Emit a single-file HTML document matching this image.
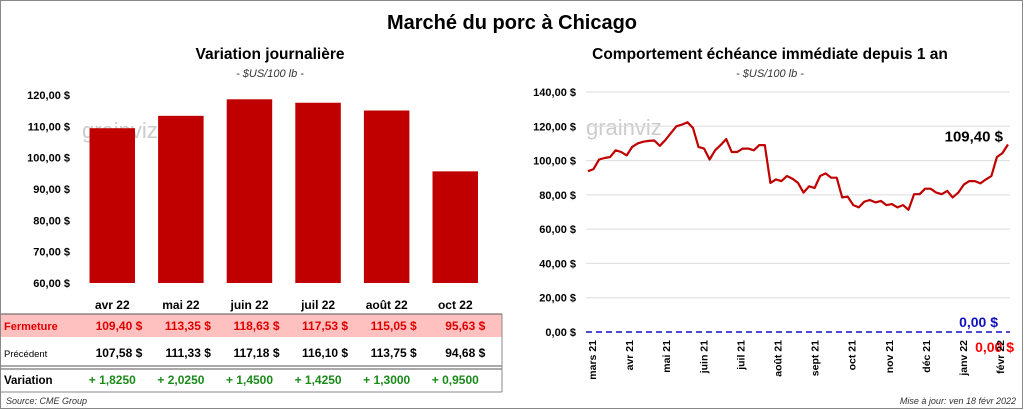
<!DOCTYPE html>
<html><head><meta charset="utf-8"><style>
body{margin:0;background:#fff;}
svg{display:block;font-family:"Liberation Sans",sans-serif;}
</style></head><body>
<svg width="1024" height="410" viewBox="0 0 1024 410">
<rect x="0.5" y="0.5" width="1022" height="408" fill="#fff" stroke="#888"/>
<text x="512" y="29" text-anchor="middle" font-size="20" font-weight="bold">Marché du porc à Chicago</text>
<text x="270" y="59" text-anchor="middle" font-size="15.5" font-weight="bold">Variation  journalière</text>
<text x="270" y="77" text-anchor="middle" font-size="11" font-style="italic" fill="#333">- $US/100 lb -</text>
<text x="770" y="59" text-anchor="middle" font-size="15.5" font-weight="bold">Comportement  échéance immédiate depuis 1 an</text>
<text x="770" y="77" text-anchor="middle" font-size="11" font-style="italic" fill="#333">- $US/100 lb -</text>
<text x="82" y="138" font-size="22" fill="#ccc">grainviz</text>
<text x="586" y="135" font-size="22" fill="#ccc">grainviz</text>
<g id="left"></g>
<g id="table"></g>
<g id="right"></g>
<text x="6" y="404" font-size="9" font-style="italic" fill="#333">Source: CME Group</text>
<text x="1016" y="404" text-anchor="end" font-size="9" font-style="italic" fill="#333">Mise à jour: ven 18 févr 2022</text>
</svg>
<script>
const months = ["avr 22","mai 22","juin 22","juil 22","août 22","oct 22"];
const closeVals = [109.40,113.35,118.63,117.53,115.05,95.63];
const prevVals = [107.58,111.33,117.18,116.10,113.75,94.68];
const varVals = ["+ 1,8250","+ 2,0250","+ 1,4500","+ 1,4250","+ 1,3000","+ 0,9500"];
const leftTicks = [60,70,80,90,100,110,120];
const lineVals = [93.8,95,100.6,101.5,102,106,105,103,108,110,111,111.5,111.7,108.6,112,116,120,121,122.3,119,108,107,100.6,106,109,112.5,105,105,107,107,106,109,109,87,89,88,91,89.4,87,81.3,85,84,91,92.5,90,90,78.5,79,74,72.7,76,77,75.6,76.5,74,74.6,72.7,74,71.3,80.4,80.4,83.6,83.6,81.3,80.4,82.3,78.5,81.3,86,88,88,86.7,89,91,102,104.4,109.4];
const rightTicks = [0,20,40,60,80,100,120,140];
const xMonths = ["mars 21","avr 21","mai 21","juin 21","juil 21","août 21","sept 21","oct 21","nov 21","déc 21","janv 22","févr 22"];
const NS="http://www.w3.org/2000/svg";
function mk(p,t,a,txt){const e=document.createElementNS(NS,t);for(const k in a)e.setAttribute(k,a[k]);if(txt!==undefined)e.textContent=txt;p.appendChild(e);return e;}
const fmt=v=>v.toFixed(2).replace('.',',');
// left bar chart
const L=document.getElementById('left');
const lx0=78,step=68.6,ly=v=>283-(v-60)/60*188;
leftTicks.forEach(t=>{const e=mk(L,'text',{x:70,y:ly(t)+4,'text-anchor':'end','font-size':11,'font-weight':'bold'},fmt(t)+' $');

});
closeVals.forEach((v,i)=>{const r=mk(L,'rect',{x:lx0+i*step+11.5,y:ly(v),width:45.5,height:283-ly(v),fill:'#c00000'});

});
// table
const T=document.getElementById('table');
const pr=mk(T,'rect',{x:1,y:314,width:501,height:23,fill:'#ffc0c0'});


mk(T,'line',{x1:1,y1:314,x2:502,y2:314,stroke:'#555'});
mk(T,'line',{x1:1,y1:366,x2:502,y2:366,stroke:'#555'});
mk(T,'line',{x1:1,y1:369,x2:502,y2:369,stroke:'#555'});
mk(T,'line',{x1:1,y1:392,x2:502,y2:392,stroke:'#888'});
mk(T,'line',{x1:502,y1:314,x2:502,y2:392,stroke:'#888'});
[["Fermeture",330,'#e00000',true,11],["Précédent",357,'#000',false,9.5],["Variation",384,'#000',true,11.5]].forEach(r=>{
const e=mk(T,'text',{x:4,y:r[1],'font-size':r[4],fill:r[2],'font-weight':r[3]?'bold':'normal'},r[0]);

});
months.forEach((m,i)=>{const cx=lx0+i*step+34.3;
const h=mk(T,'text',{x:cx,y:309,'text-anchor':'middle','font-size':12,'font-weight':'bold'},m);


const c=mk(T,'text',{x:cx+30,y:330,'text-anchor':'end','font-size':12,'font-weight':'bold',fill:'#e00000'},fmt(closeVals[i])+'  $');


const p=mk(T,'text',{x:cx+30,y:357,'text-anchor':'end','font-size':12,'font-weight':'bold'},fmt(prevVals[i])+'  $');


const v=mk(T,'text',{x:cx,y:384,'text-anchor':'middle','font-size':12,'font-weight':'bold',fill:'#1a8a1a'},varVals[i]);

});
// right line chart
const R=document.getElementById('right');
const rx0=588,rx1=1008,ry=v=>332-v/140*240;
rightTicks.forEach(t=>{if(t>0)mk(R,'line',{x1:586,x2:1010,y1:ry(t),y2:ry(t),stroke:'#ddd'});
const e=mk(R,'text',{x:576,y:ry(t)+4,'text-anchor':'end','font-size':11,'font-weight':'bold'},fmt(t)+' $');

});
const zl=mk(R,'line',{x1:586,x2:1010,y1:ry(0),y2:ry(0),stroke:'#1010c0','stroke-width':1.5,'stroke-dasharray':'6,4'});


const pts=lineVals.map((v,i)=>(rx0+i*(rx1-rx0)/(lineVals.length-1)).toFixed(1)+','+ry(v).toFixed(1)).join(' ');
const pl=mk(R,'polyline',{points:pts,fill:'none',stroke:'#c00000','stroke-width':2.2,'stroke-linejoin':'round'});


const lab=mk(R,'text',{x:1003,y:ry(lineVals[lineVals.length-1])-3,'text-anchor':'end','font-size':15,'font-weight':'bold'},fmt(lineVals[lineVals.length-1])+' $');


const b0=mk(R,'text',{x:998,y:327,'text-anchor':'end','font-size':14,'font-weight':'bold',fill:'#1010c0'},'0,00 $');


const r0=mk(R,'text',{x:1014,y:352,'text-anchor':'end','font-size':14,'font-weight':'bold',fill:'#ff0000'},'0,00 $');


xMonths.forEach((m,i)=>{const x=592+i*37.1+4;
const e=mk(R,'text',{x:x,y:340,transform:`rotate(-90 ${x} 340)`,'text-anchor':'end','font-size':10.5,'font-weight':'bold'},m);

});
</script>
</body></html>
